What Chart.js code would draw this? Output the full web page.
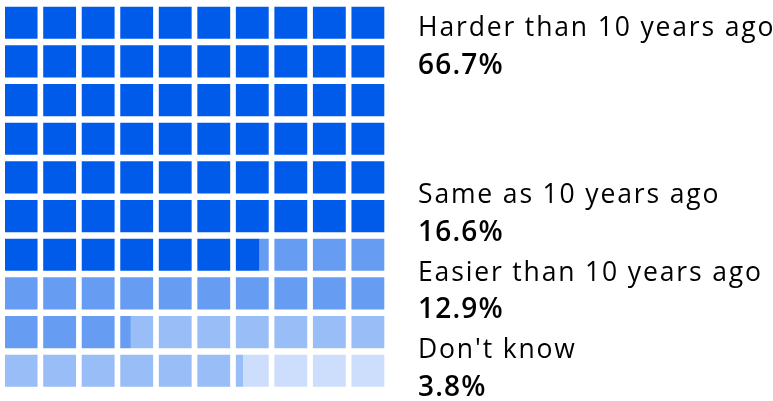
<!DOCTYPE html>
<html>
<head>
<meta charset="utf-8">
<script src="https://cdn.jsdelivr.net/npm/chart.js@4/dist/chart.umd.min.js"></script>
<style>
  html, body { margin: 0; padding: 0; background: #ffffff; }
  #wrap { position: relative; width: 773px; height: 401px; }
</style>
</head>
<body>
<div id="wrap"><canvas id="waffle"></canvas></div>
<script>
// Survey answers and their shares (percent of 100 waffle cells)
const categories = ['Harder than 10 years ago', 'Same as 10 years ago', 'Easier than 10 years ago', "Don't know"];
const shares = [66.7, 16.6, 12.9, 3.8];
const colors = ['#005BEA', '#669DF2', '#99BDF7', '#CCDEFB'];

// Grid of 10 x 10 cells, filled row by row
const COLS = 10;
const ROWS = 10;
const CELL_FILL = 0.836; // share of a column taken by the square, the rest is the gap

// Baselines of the legend texts on the right
const labelBaselines = [36, 203, 281, 358];
const valueBaselines = [74, 241, 318, 396];

const rowLabels = Array.from({ length: ROWS }, (_, i) => 'r' + i);

/**
 * Split each share into floating bar pieces, one piece per cell it touches.
 * A cell shared by two answers gets two pieces side by side.
 */
function buildCells(values) {
  const sets = [];
  let start = 0;
  values.forEach((v, k) => {
    const end = start + v;
    const pieces = [];
    for (let n = Math.floor(start); n < Math.ceil(end - 1e-9); n++) {
      const a = Math.max(n, start);
      const b = Math.min(n + 1, end);
      if (b - a <= 1e-9) continue;
      const col = n % COLS;
      const row = Math.floor(n / COLS);
      pieces.push({
        x: [col + (a - n) * CELL_FILL, col + (b - n) * CELL_FILL],
        y: rowLabels[row]
      });
    }
    sets.push(pieces);
    start = end;
  });
  return sets;
}

const cellSets = buildCells(shares);

// Legend text drawn beside the grid
const legendText = {
  id: 'legendText',
  afterDraw(chart) {
    const ctx = chart.ctx;
    ctx.save();
    ctx.textBaseline = 'alphabetic';
    ctx.textAlign = 'left';
    ctx.fillStyle = '#000000';
    categories.forEach((name, i) => {
      ctx.font = '400 26.5px "Open Sans"';
      ctx.letterSpacing = '1.85px';
      ctx.fillText(name, 418, labelBaselines[i]);
      ctx.font = '600 28px "Open Sans"';
      ctx.letterSpacing = '1.2px';
      ctx.fillText(shares[i].toFixed(1) + '%', 418, valueBaselines[i]);
    });
    ctx.restore();
  }
};

new Chart(document.getElementById('waffle').getContext('2d'), {
  type: 'bar',
  data: {
    labels: rowLabels,
    datasets: cellSets.map((pieces, k) => ({
      label: categories[k],
      data: pieces,
      backgroundColor: colors[k],
      borderWidth: 0,
      barThickness: 31.5,
      grouped: false
    }))
  },
  options: {
    indexAxis: 'y',
    responsive: true,
    maintainAspectRatio: false,
    animation: false,
    layout: {
      padding: { left: 5, right: 382.7, top: 3.4, bottom: 10.9 }
    },
    plugins: {
      legend: { display: false },
      tooltip: { enabled: false }
    },
    scales: {
      x: { type: 'linear', min: 0, max: COLS, display: false },
      y: { type: 'category', display: false, offset: true, grid: { display: false } }
    }
  },
  plugins: [legendText]
});
</script>
</body>
</html>
